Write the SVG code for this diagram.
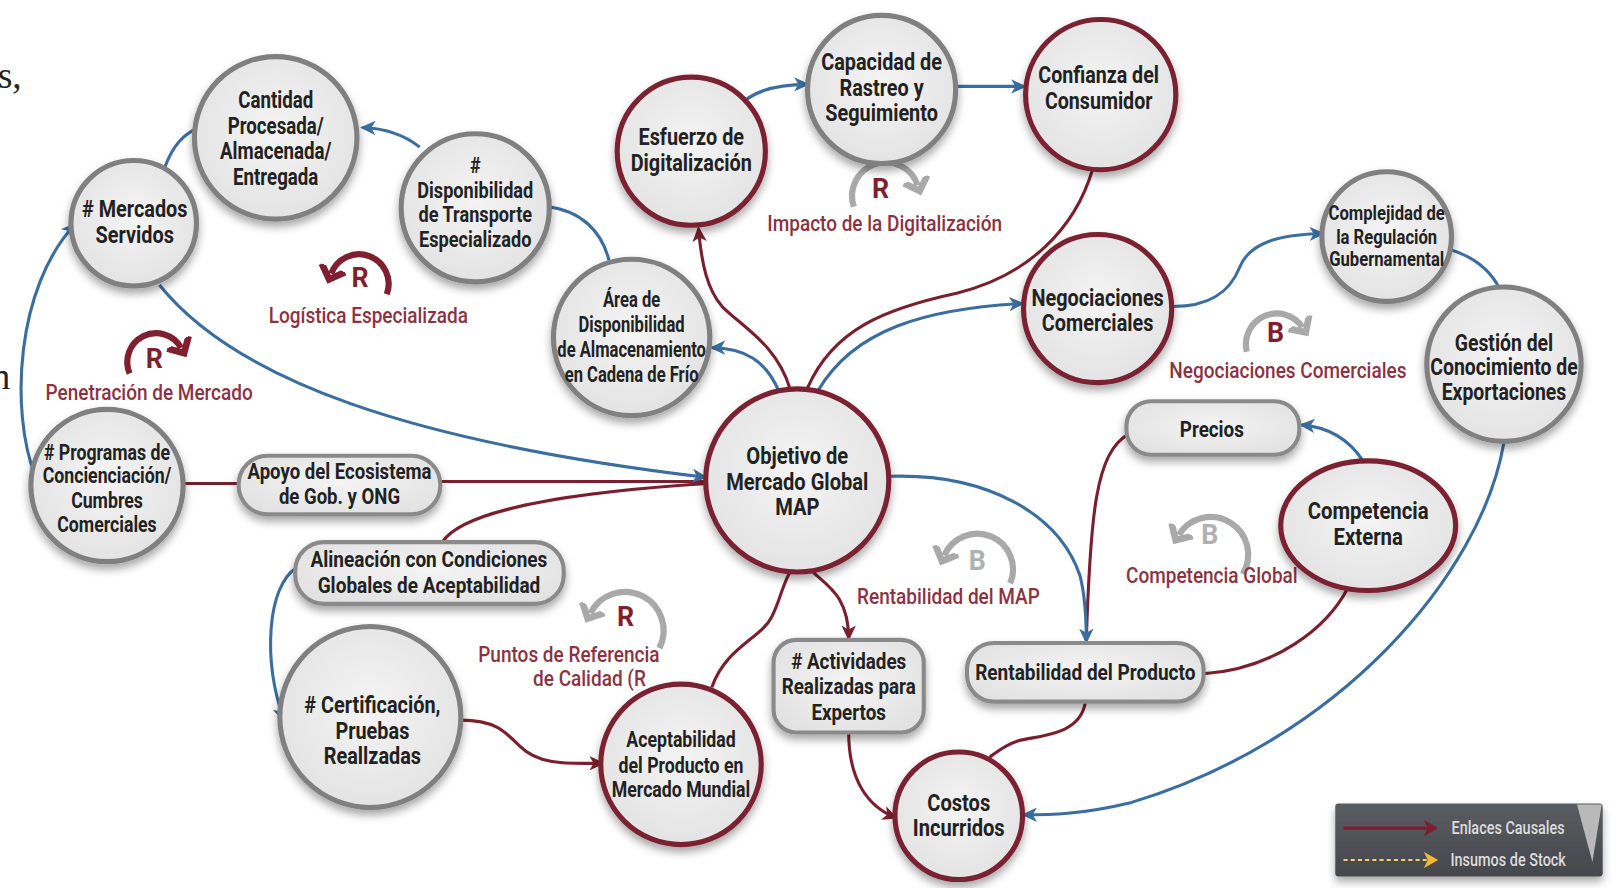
<svg xmlns="http://www.w3.org/2000/svg" width="1613" height="888" viewBox="0 0 1613 888">
<defs>
<style>
.t{font-family:Roboto,"Liberation Sans",sans-serif;font-weight:700;font-size:23px;fill:#222;text-anchor:middle}
.s22{font-size:21.5px}
.s20{font-size:19.5px}
.lb{font-family:Roboto,"Liberation Sans",sans-serif;font-weight:500;font-size:22px;fill:#8a3343;text-anchor:middle}
.lt{font-family:Roboto,"Liberation Sans",sans-serif;font-weight:700;font-size:26px;text-anchor:middle}
.ng{fill:url(#gf);stroke:#808080;stroke-width:5;filter:url(#sh)}
.nr{fill:url(#gf);stroke:#7a2231;stroke-width:5;filter:url(#sh)}
.bx{fill:url(#gf);stroke:#8a8a8a;stroke-width:4;filter:url(#sh)}
.cb{fill:none;stroke:#3b6e9e;stroke-width:3}
.cr{fill:none;stroke:#7a1f2d;stroke-width:3}
.lr{fill:none;stroke:#7f1f2f;stroke-width:6}
.lg{fill:none;stroke:#a9a9a9;stroke-width:6}
.lgd{font-family:Roboto,"Liberation Sans",sans-serif;font-weight:500;font-size:18px;fill:#dcdcdc}
</style>
<radialGradient id="gf" cx="50%" cy="45%" r="60%">
<stop offset="0" stop-color="#f4f4f4"/>
<stop offset="1" stop-color="#e2e2e2"/>
</radialGradient>
<linearGradient id="lgbg" x1="0" y1="0" x2="0" y2="1">
<stop offset="0" stop-color="#5a5d62"/>
<stop offset="1" stop-color="#44474c"/>
</linearGradient>
<filter id="sh" x="-20%" y="-20%" width="140%" height="150%">
<feDropShadow dx="0" dy="5" stdDeviation="4" flood-color="#000" flood-opacity="0.35"/>
</filter>
<marker id="ab" markerUnits="userSpaceOnUse" markerWidth="16" markerHeight="14" refX="13" refY="7" orient="auto">
<path d="M0,0 L15,7 L0,14 L4,7 z" fill="#3b6e9e"/>
</marker>
<marker id="ar" markerUnits="userSpaceOnUse" markerWidth="16" markerHeight="14" refX="13" refY="7" orient="auto">
<path d="M0,0 L15,7 L0,14 L4,7 z" fill="#7a1f2d"/>
</marker>
<marker id="cvr" markerUnits="userSpaceOnUse" markerWidth="26" markerHeight="30" refX="6" refY="15" orient="auto">
<path d="M0,3 L12,15 L0,27" fill="none" stroke="#7f1f2f" stroke-width="6.5"/>
</marker>
<marker id="cvg" markerUnits="userSpaceOnUse" markerWidth="26" markerHeight="30" refX="6" refY="15" orient="auto">
<path d="M0,3 L12,15 L0,27" fill="none" stroke="#a9a9a9" stroke-width="6.5"/>
</marker>
<marker id="ly" markerUnits="userSpaceOnUse" markerWidth="16" markerHeight="16" refX="12" refY="8" orient="auto">
<path d="M0,0 L14,8 L0,16 L4,8 z" fill="#f0b834"/>
</marker>
<marker id="lrm" markerUnits="userSpaceOnUse" markerWidth="16" markerHeight="16" refX="12" refY="8" orient="auto">
<path d="M0,0 L14,8 L0,16 L4,8 z" fill="#7a1f2d"/>
</marker>
</defs>
<rect width="1613" height="888" fill="#ffffff"/>
<g transform="scale(1.0287)">
<text x="-2" y="86" font-family="Liberation Serif,serif" font-size="36" fill="#222">s,</text>
<text x="-8" y="378" font-family="Liberation Serif,serif" font-size="36" fill="#222">n</text>

<g id="connectors">
<path class="cb" d="M160 163 C168 142 178 130 194 124"/>
<path class="cb" d="M408 143 Q385 125 352 124" marker-end="url(#ab)"/>
<path class="cb" d="M592 253 C585 225 565 205 533 201"/>
<path class="cb" d="M757 380 C745 352 725 338 692 338" marker-end="url(#ab)"/>
<path class="cr" d="M768 378 C755 335 722 318 702 298 C688 282 682 258 679 222" marker-end="url(#ar)"/>
<path class="cr" d="M785 377 C810 320 860 300 930 285 C1000 268 1045 222 1062 165"/>
<path class="cb" d="M795 380 C830 320 900 300 994 295" marker-end="url(#ab)"/>
<path class="cb" d="M725 97 C740 86 760 82 785 82" marker-end="url(#ab)"/>
<path class="cb" d="M930 84 L996 84" marker-end="url(#ab)"/>
<path class="cb" d="M1140 298 C1175 298 1195 285 1205 260 C1215 235 1245 228 1286 227" marker-end="url(#ab)"/>
<path class="cb" d="M1408 242 C1435 250 1450 265 1458 281"/>
<path class="cb" d="M1462 430 C1440 560 1300 720 1100 780 C1050 792 1020 792 995 792" marker-end="url(#ab)"/>
<path class="cb" d="M1325 448 C1310 425 1290 415 1265 413" marker-end="url(#ab)"/>
<path class="cr" d="M1097 422 C1065 440 1060 500 1056 622"/>
<path class="cb" d="M865 463 C960 460 1030 500 1050 560 C1055 580 1056 600 1056 624" marker-end="url(#ab)"/>
<path class="cr" d="M1310 572 C1290 610 1240 650 1170 655"/>
<path class="cr" d="M1055 683 C1050 715 1010 715 990 720 C975 725 968 732 962 736"/>
<path class="cr" d="M825 712 C825 760 845 785 871 795" marker-end="url(#ar)"/>
<path class="cr" d="M790 556 C805 570 825 580 825 621" marker-end="url(#ar)"/>
<path class="cr" d="M692 668 C705 630 740 620 750 600 C758 585 760 570 768 556"/>
<path class="cr" d="M448 700 C480 700 490 710 505 725 C525 745 555 742 586 742" marker-end="url(#ar)"/>
<path class="cb" d="M288 552 C260 570 255 640 276 700" marker-end="url(#ab)"/>
<path class="cr" d="M430 527 C450 495 560 478 688 470"/>
<path class="cr" d="M178 470 L232 470"/>
<path class="cr" d="M428 468 L688 468"/>
<path class="cb" d="M155 277 C230 370 400 430 686 464" marker-end="url(#ab)"/>
<path class="cb" d="M34 462 C10 400 15 280 73 218" marker-end="url(#ab)"/>
</g>

<g id="loop-logistica">
<path class="lr" d="M376 286 A28 28 0 1 0 322 266" marker-end="url(#cvr)"/>
<text class="lt" x="350" y="279" fill="#7f1f2f">R</text>
<text class="lb" transform="translate(358 0) scale(0.84 1)" x="0" y="314">Logística Especializada</text>
</g>
<g id="loop-penetracion">
<path class="lr" d="M126 363 A28 28 0 0 1 176 338" marker-end="url(#cvr)"/>
<text class="lt" x="150" y="358" fill="#7f1f2f">R</text>
<text class="lb" transform="translate(145 0) scale(0.84 1)" x="0" y="389">Penetración de Mercado</text>
</g>
<g id="loop-impacto">
<path class="lg" d="M830 201 A32 32 0 0 1 892 180" marker-end="url(#cvg)"/>
<text class="lt" x="856" y="192" fill="#7f1f2f">R</text>
<text class="lb" transform="translate(860 0) scale(0.84 1)" x="0" y="225">Impacto de la Digitalización</text>
</g>
<g id="loop-negociaciones">
<path class="lg" d="M1212 342 A30 30 0 0 1 1266 318" marker-end="url(#cvg)"/>
<text class="lt" x="1240" y="332" fill="#7f1f2f">B</text>
<text class="lb" transform="translate(1252 0) scale(0.84 1)" x="0" y="367">Negociaciones Comerciales</text>
</g>
<g id="loop-rentabilidad-map">
<path class="lg" d="M982 567 A31 31 0 1 0 918 540" marker-end="url(#cvg)"/>
<text class="lt" x="950" y="554" fill="#b0b0b0">B</text>
<text class="lb" transform="translate(922 0) scale(0.84 1)" x="0" y="587">Rentabilidad del MAP</text>
</g>
<g id="loop-competencia-global">
<path class="lg" d="M1208 558 A31 31 0 1 0 1146 520" marker-end="url(#cvg)"/>
<text class="lt" x="1176" y="529" fill="#b0b0b0">B</text>
<text class="lb" transform="translate(1178 0) scale(0.84 1)" x="0" y="567">Competencia Global</text>
</g>
<g id="loop-puntos">
<path class="lg" d="M641 630 A31 31 0 1 0 574 596" marker-end="url(#cvg)"/>
<text class="lt" x="608" y="609" fill="#7f1f2f">R</text>
<text class="lb" transform="translate(553 0) scale(0.84 1)" x="0" y="644">Puntos de Referencia</text>
<text class="lb" transform="translate(573 0) scale(0.84 1)" x="0" y="667">de Calidad (R</text>
</g>

<g id="n-cantidad"><circle class="ng" cx="268" cy="134" r="79"/>
<text class="t" transform="translate(268 0) scale(0.79 1)"><tspan x="0" y="105">Cantidad</tspan><tspan x="0" y="130">Procesada/</tspan><tspan x="0" y="155">Almacenada/</tspan><tspan x="0" y="180">Entregada</tspan></text></g>
<g id="n-mercados"><circle class="ng" cx="130" cy="217" r="61"/>
<text class="t" transform="translate(131 0) scale(0.84 1)"><tspan x="0" y="211"># Mercados</tspan><tspan x="0" y="236">Servidos</tspan></text></g>
<g id="n-transporte"><circle class="ng" cx="462" cy="202" r="72"/>
<text class="t s22" transform="translate(462 0) scale(0.82 1)"><tspan x="0" y="168">#</tspan><tspan x="0" y="192">Disponibilidad</tspan><tspan x="0" y="216">de Transporte</tspan><tspan x="0" y="240">Especializado</tspan></text></g>
<g id="n-area"><circle class="ng" cx="614" cy="328" r="76"/>
<text class="t s22" transform="translate(614 0) scale(0.75 1)"><tspan x="0" y="298">Área de</tspan><tspan x="0" y="323">Disponibilidad</tspan><tspan x="0" y="347">de Almacenamiento</tspan><tspan x="0" y="371">en Cadena de Frío</tspan></text></g>
<g id="n-esfuerzo"><circle class="nr" cx="672" cy="147" r="72"/>
<text class="t" transform="translate(672 0) scale(0.84 1)"><tspan x="0" y="141">Esfuerzo de</tspan><tspan x="0" y="166">Digitalización</tspan></text></g>
<g id="n-capacidad"><circle class="ng" cx="857" cy="87" r="72"/>
<text class="t" transform="translate(857 0) scale(0.84 1)"><tspan x="0" y="68">Capacidad de</tspan><tspan x="0" y="93">Rastreo y</tspan><tspan x="0" y="118">Seguimiento</tspan></text></g>
<g id="n-confianza"><circle class="nr" cx="1070" cy="92" r="73"/>
<text class="t" transform="translate(1068 0) scale(0.83 1)"><tspan x="0" y="81">Confianza del</tspan><tspan x="0" y="106">Consumidor</tspan></text></g>
<g id="n-negociaciones"><circle class="nr" cx="1067" cy="300" r="72"/>
<text class="t" transform="translate(1067 0) scale(0.84 1)"><tspan x="0" y="297">Negociaciones</tspan><tspan x="0" y="322">Comerciales</tspan></text></g>
<g id="n-complejidad"><circle class="ng" cx="1348" cy="230" r="63"/>
<text class="t s20" transform="translate(1348 0) scale(0.83 1)"><tspan x="0" y="214">Complejidad de</tspan><tspan x="0" y="237">la Regulación</tspan><tspan x="0" y="259">Gubernamental</tspan></text></g>
<g id="n-gestion"><circle class="ng" cx="1462" cy="354" r="75"/>
<text class="t" transform="translate(1462 0) scale(0.82 1)"><tspan x="0" y="341">Gestión del</tspan><tspan x="0" y="365">Conocimiento de</tspan><tspan x="0" y="389">Exportaciones</tspan></text></g>
<g id="n-objetivo"><circle class="nr" cx="775" cy="467" r="89"/>
<text class="t" transform="translate(775 0) scale(0.85 1)"><tspan x="0" y="451">Objetivo de</tspan><tspan x="0" y="476">Mercado Global</tspan><tspan x="0" y="501">MAP</tspan></text></g>
<g id="n-programas"><circle class="ng" cx="104" cy="472" r="74"/>
<text class="t s22" transform="translate(104 0) scale(0.8 1)"><tspan x="0" y="447"># Programas de</tspan><tspan x="0" y="470">Concienciación/</tspan><tspan x="0" y="494">Cumbres</tspan><tspan x="0" y="517">Comerciales</tspan></text></g>
<g id="n-apoyo"><rect class="bx" x="232" y="443" width="196" height="57" rx="28"/>
<text class="t s22" transform="translate(330 0) scale(0.84 1)"><tspan x="0" y="466">Apoyo del Ecosistema</tspan><tspan x="0" y="490">de Gob. y ONG</tspan></text></g>
<g id="n-alineacion"><rect class="bx" x="287" y="527" width="261" height="60" rx="28"/>
<text class="t s22" transform="translate(417 0) scale(0.86 1)"><tspan x="0" y="551">Alineación con Condiciones</tspan><tspan x="0" y="576">Globales de Aceptabilidad</tspan></text></g>
<g id="n-certificacion"><circle class="ng" cx="360" cy="697" r="88"/>
<text class="t" transform="translate(362 0) scale(0.84 1)"><tspan x="0" y="693"># Certificación,</tspan><tspan x="0" y="718">Pruebas</tspan><tspan x="0" y="743">Reallzadas</tspan></text></g>
<g id="n-aceptabilidad"><circle class="nr" cx="662" cy="743" r="78"/>
<text class="t s22" transform="translate(662 0) scale(0.8 1)"><tspan x="0" y="726">Aceptabilidad</tspan><tspan x="0" y="751">del Producto en</tspan><tspan x="0" y="775">Mercado Mundial</tspan></text></g>
<g id="n-actividades"><rect class="bx" x="752" y="622" width="146" height="90" rx="22"/>
<text class="t s22" transform="translate(825 0) scale(0.85 1)"><tspan x="0" y="650"># Actividades</tspan><tspan x="0" y="675">Realizadas para</tspan><tspan x="0" y="700">Expertos</tspan></text></g>
<g id="n-costos"><circle class="nr" cx="932" cy="793" r="62"/>
<text class="t" transform="translate(932 0) scale(0.85 1)"><tspan x="0" y="788">Costos</tspan><tspan x="0" y="813">Incurridos</tspan></text></g>
<g id="n-rentabilidad"><rect class="bx" x="940" y="625" width="230" height="57" rx="26"/>
<text class="t s22" transform="translate(1055 0) scale(0.86 1)"><tspan x="0" y="661">Rentabilidad del Producto</tspan></text></g>
<g id="n-precios"><rect class="bx" x="1095" y="390" width="168" height="52" rx="24"/>
<text class="t s22" transform="translate(1178 0) scale(0.85 1)"><tspan x="0" y="425">Precios</tspan></text></g>
<g id="n-competencia"><ellipse class="nr" cx="1330" cy="511" rx="85" ry="63"/>
<text class="t" transform="translate(1330 0) scale(0.86 1)"><tspan x="0" y="505">Competencia</tspan><tspan x="0" y="530">Externa</tspan></text></g>

<g id="legend">
<rect x="1298" y="781" width="260" height="71" rx="3" fill="url(#lgbg)" filter="url(#sh)"/>
<polygon points="1533,782 1557,782 1548,838" fill="#b9b9b9"/>
<line x1="1306" y1="805" x2="1396" y2="805" stroke="#7a1f2d" stroke-width="3" marker-end="url(#lrm)"/>
<line x1="1306" y1="836" x2="1396" y2="836" stroke="#f0d070" stroke-width="2" stroke-dasharray="4 3" marker-end="url(#ly)"/>
<text class="lgd" transform="translate(1411 0) scale(0.78 1)" x="0" y="811">Enlaces Causales</text>
<text class="lgd" transform="translate(1410 0) scale(0.78 1)" x="0" y="842">Insumos de Stock</text>
</g>
</g>
</svg>
